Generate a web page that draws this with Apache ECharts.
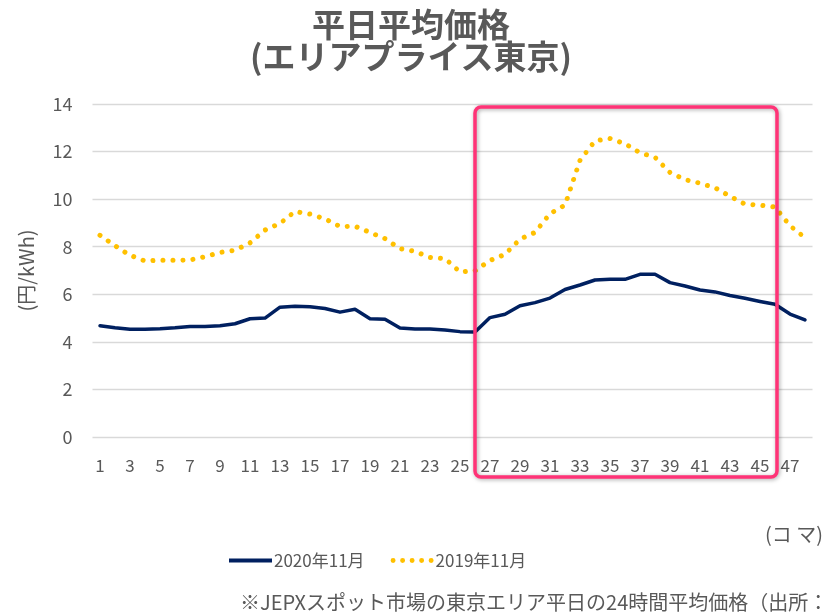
<!DOCTYPE html>
<html>
<head>
<meta charset="utf-8">
<script src="https://cdn.jsdelivr.net/npm/echarts@6/dist/echarts.min.js"></script>
<style>
html,body{margin:0;padding:0;background:#fff;}
#chart{width:825px;height:615px;}
</style>
</head>
<body>
<div id="chart"></div>
<script>
var categories = [];
for (var i = 1; i <= 48; i++) categories.push(String(i));

var series2020 = [4.68,4.59,4.53,4.53,4.55,4.59,4.65,4.65,4.68,4.76,4.97,5.00,
                  5.46,5.50,5.48,5.40,5.25,5.37,4.97,4.95,4.58,4.54,4.54,4.50,
                  4.43,4.41,5.02,5.16,5.52,5.65,5.84,6.20,6.39,6.60,6.63,6.63,
                  6.84,6.84,6.49,6.35,6.18,6.10,5.95,5.83,5.70,5.58,5.17,4.92];

var series2019 = [8.48,8.04,7.64,7.40,7.43,7.43,7.44,7.58,7.76,7.85,8.16,8.70,
                  8.98,9.48,9.37,9.17,8.85,8.86,8.60,8.34,7.92,7.80,7.55,7.50,
                  6.94,6.99,7.42,7.68,8.32,8.60,9.39,9.75,11.63,12.45,12.55,12.33,
                  11.95,11.76,11.12,10.82,10.67,10.48,10.12,9.79,9.75,9.67,8.88,8.38];

var seriesNames = ['2020年11月', '2019年11月'];
var yTicks = { min: 0, max: 14, interval: 2 };

var FONT = '"Noto Sans CJK JP", "Noto Sans", sans-serif';
var GRAY = '#595959';

function dotsPath(n, r, gap) {
  var p = 'path://';
  for (var k = 0; k < n; k++) {
    var x = k * gap;
    p += 'M' + x + ',' + r + ' a' + r + ',' + r + ' 0 1,0 ' + (2 * r) + ',0 a' + r + ',' + r + ' 0 1,0 ' + (-2 * r) + ',0 Z ';
  }
  return p;
}

var chart = echarts.init(document.getElementById('chart'), null, {renderer: 'canvas'});
chart.setOption({
  animation: false,
  backgroundColor: '#fff',
  textStyle: { fontFamily: FONT },
  title: {
    text: '平日平均価格\n(エリアプライス東京)',
    left: 406, top: 3, textAlign: 'center',
    textStyle: { fontFamily: FONT, fontSize: 33, fontWeight: 'bold', color: GRAY, lineHeight: 32 }
  },
  grid: { left: 92.5, right: 12.5, top: 104, bottom: 178, containLabel: false },
  xAxis: {
    type: 'category',
    data: categories,
    boundaryGap: true,
    axisLine: { show: false },
    axisTick: { show: false },
    axisLabel: { interval: 1, margin: 20, fontSize: 17, color: GRAY, fontFamily: FONT },
    splitLine: { show: false }
  },
  yAxis: {
    type: 'value',
    min: yTicks.min, max: yTicks.max, interval: yTicks.interval,
    name: '(円/kWh)',
    nameLocation: 'middle',
    nameGap: 56,
    nameRotate: 90,
    nameTextStyle: { fontSize: 20, color: GRAY, fontFamily: FONT },
    axisLine: { show: false },
    axisTick: { show: false },
    axisLabel: { margin: 20, fontSize: 18, color: GRAY, fontFamily: FONT },
    splitLine: { lineStyle: { color: '#d9d9d9', width: 1.3 } }
  },
  legend: {
    left: 224, top: 547,
    itemGap: 26,
    itemWidth: 43, itemHeight: 14,
    textStyle: { fontSize: 17, color: GRAY, fontFamily: FONT, padding: [0,0,0,-3] },
    data: [
      { name: seriesNames[0], icon: 'path://M0,0 L42,0 L42,4 L0,4 Z', itemStyle: { color: '#002060' } },
      { name: seriesNames[1], icon: dotsPath(5, 2.5, 9.6), itemStyle: { color: '#FFC000' } }
    ]
  },
  series: [
    {
      name: seriesNames[0], type: 'line', data: series2020,
      symbol: 'none', smooth: false,
      lineStyle: { color: '#002060', width: 3.5, join: 'round', cap: 'round' },
      itemStyle: { color: '#002060' },
      z: 3
    },
    {
      name: seriesNames[1], type: 'line', data: series2019,
      symbol: 'none', smooth: false,
      lineStyle: { color: '#FFC000', width: 5, type: [0.01, 10], cap: 'round', join: 'round' },
      itemStyle: { color: '#FFC000' },
      z: 2
    }
  ],
  graphic: [
    {
      type: 'rect', z: 100,
      shape: { x: 475, y: 107, width: 302, height: 370, r: 6 },
      style: { fill: 'none', stroke: '#FF3377', lineWidth: 3.5,
               shadowBlur: 4, shadowColor: 'rgba(0,0,0,0.35)', shadowOffsetX: 1, shadowOffsetY: 1 }
    },
    {
      type: 'text', right: 2, top: 524, z: 100,
      style: { text: '(コ マ)', fontSize: 20, fill: GRAY, fontFamily: FONT }
    },
    {
      type: 'text', left: 240, top: 592, z: 100,
      style: { text: '※JEPXスポット市場の東京エリア平日の24時間平均価格（出所：', fontSize: 20, fill: GRAY, fontFamily: FONT }
    }
  ]
});
</script>
</body>
</html>
